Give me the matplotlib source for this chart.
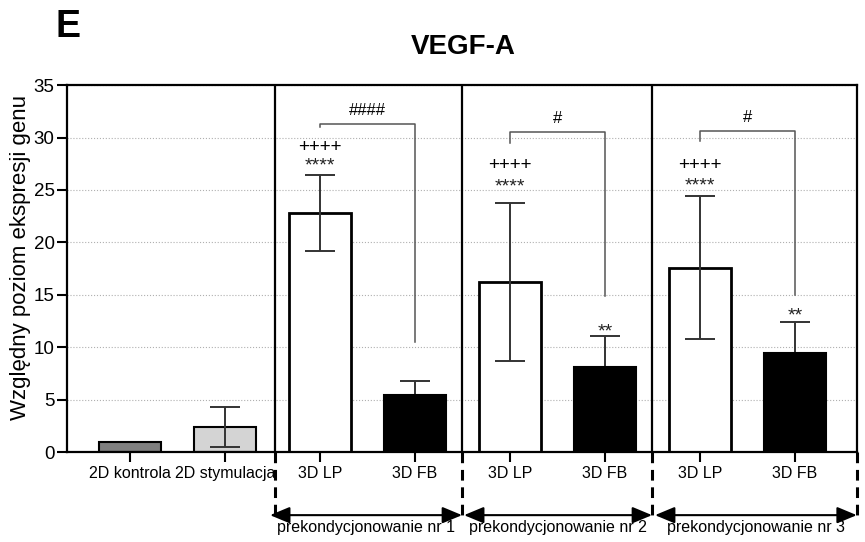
import numpy as np
import matplotlib.pyplot as plt

plt.rcParams['font.family'] = ['Liberation Sans', 'DejaVu Sans']

# data
categories = ['2D kontrola', '2D stymulacja', '3D LP', '3D FB',
              '3D LP', '3D FB', '3D LP', '3D FB']
means = [1.0, 2.4, 22.8, 5.4, 16.2, 8.15, 17.6, 9.45]
sd = [0.0, 1.9, 3.6, 1.4, 7.55, 2.9, 6.85, 2.95]
colors = ['#7f7f7f', '#d4d4d4', 'white', 'black',
          'white', 'black', 'white', 'black']

groups = ['prekondycjonowanie nr 1', 'prekondycjonowanie nr 2',
          'prekondycjonowanie nr 3']

# significance marks (bar index, level)
plus_pos = [(2, 29.2), (4, 27.5), (6, 27.5)]
star_pos = [(2, 27.9, '****'), (4, 25.9, '****'), (6, 26.0, '****'),
            (5, 12.1, '**'), (7, 13.6, '**')]
# brackets: left bar, right bar, top, left end, right end, label, label level
brackets = [(2, 3, 31.3, 31.0, 10.5, '####', 32.7),
            (4, 5, 30.55, 29.5, 14.9, '#', 31.9),
            (6, 7, 30.65, 29.7, 15.0, '#', 32.0)]

fig = plt.figure(figsize=(8.65, 5.42), dpi=100)
ax = fig.add_axes([0.0775, 0.166, 0.913, 0.677])

x = np.arange(len(categories))
ax.bar(x, means, width=0.65, color=colors, edgecolor='black',
       linewidth=[1.5, 1.5, 2, 1.5, 2, 1.5, 2, 1.5], zorder=2)
# white bars: error bar drawn on top, dark bars: lower half hidden behind bar
for i in range(1, len(x)):
    z = 1.5 if colors[i] == 'black' else 3
    ax.errorbar(x[i], means[i], yerr=sd[i], fmt='none', ecolor='#333333',
                elinewidth=1.4, capsize=11, capthick=1.4, zorder=z)

ax.set_xlim(-0.663, 7.65)
ax.set_ylim(0, 35)
ax.set_yticks(range(0, 36, 5))
ax.set_xticks(x)
ax.set_xticklabels(categories, fontsize=11.5)
ax.tick_params(axis='y', labelsize=13.5, length=7, width=1.5, pad=2)
ax.tick_params(axis='x', length=7, width=1.5, pad=3)
for s in ax.spines.values():
    s.set_linewidth(1.6)
ax.yaxis.grid(True, linestyle=':', color='#b0b0b0', linewidth=0.8)
ax.set_axisbelow(True)
ax.set_ylabel('Względny poziom ekspresji genu', fontsize=16)
ax.yaxis.set_label_coords(-0.045, 0.53)

# group separators
seps = [1.53, 3.495, 5.495, 7.65]
for sx in seps[:3]:
    ax.axvline(sx, color='black', linewidth=1.6, zorder=4)
trans = ax.get_xaxis_transform()
for sx in seps:
    ax.plot([sx, sx], [0, -0.172], transform=trans, clip_on=False,
            color='black', linewidth=2.2, linestyle=(0, (3.5, 2.2)))

arrow_ends = [(1.474, 3.495), (3.516, 5.495), (5.526, 7.65)]
for (a, b), g in zip(arrow_ends, groups):
    ax.annotate('', xy=(b, -0.172), xytext=(a, -0.172), xycoords=trans,
                textcoords=trans,
                arrowprops=dict(arrowstyle='<|-|>,head_length=1.2,head_width=0.5',
                                color='black', linewidth=1.5,
                                shrinkA=0, shrinkB=0))
    ax.text((a + b) / 2, -0.207, g, transform=trans, ha='center',
            va='center', fontsize=11.5)

# brackets
for l, r, top, le, re, lab, ly in brackets:
    ax.plot([l, l, r, r], [le, top, top, re], color='#555555',
            linewidth=1.1, zorder=3)
    ax.annotate(lab, (l + (r - l) / 2, ly), xytext=(0, -0.35 * 12),
                textcoords='offset points', ha='center', va='baseline',
                fontsize=12)

for bx, by in plus_pos:
    ax.annotate('++++', (bx, by), xytext=(0, -0.35 * 13.5),
                textcoords='offset points', ha='center', va='baseline',
                fontsize=13.5)
for bx, by, t in star_pos:
    ax.annotate(t, (bx, by), xytext=(0, -0.575 * 14),
                textcoords='offset points', ha='center', va='baseline',
                fontsize=14, color='#222222')

fig.text(0.535, 0.9, 'VEGF-A', ha='center', va='baseline',
         fontsize=20, fontweight='bold')
fig.text(0.064, 0.932, 'E', ha='left', va='baseline',
         fontsize=27, fontweight='bold')

fig.savefig('out.png', dpi=100)
